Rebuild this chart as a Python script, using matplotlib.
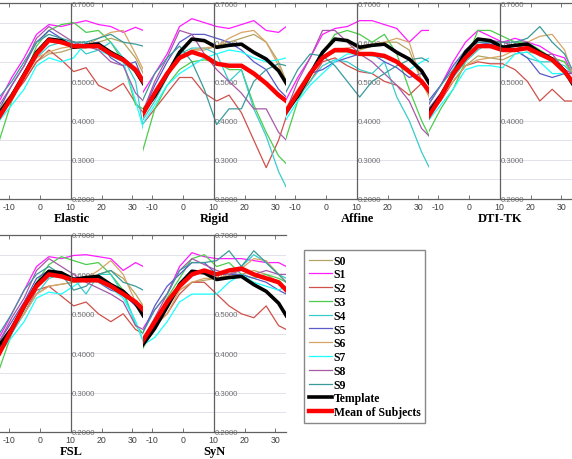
import numpy as np
import matplotlib.pyplot as plt
from matplotlib.ticker import FormatStrFormatter

plt.rcParams["font.family"] = ["Liberation Sans", "DejaVu Sans"]
plt.rcParams["axes.unicode_minus"] = False

# sample positions along the tract (shared by every curve)
x = [-13, -9, -5, -1, 3, 7, 11, 15, 19, 23, 27, 31, 33.5]

subject_names = ["S0", "S1", "S2", "S3", "S4", "S5", "S6", "S7", "S8", "S9"]
subject_colors = ["#b3a462", "#ff1cff", "#d0504a", "#4ccc4c", "#38cccc",
                  "#5a5ac8", "#d8a466", "#1cffff", "#a65aa6", "#3a9a9a"]

template = [0.42, 0.463, 0.518, 0.574, 0.608, 0.604, 0.587, 0.592, 0.595, 0.574, 0.557, 0.527, 0.495]

elastic_subjects = [
    [0.42, 0.46, 0.50, 0.55, 0.570, 0.575, 0.585, 0.585, 0.600, 0.610, 0.600, 0.560, 0.520],
    [0.45, 0.51, 0.56, 0.62, 0.645, 0.640, 0.648, 0.655, 0.645, 0.640, 0.625, 0.638, 0.630],
    [0.42, 0.46, 0.50, 0.55, 0.580, 0.555, 0.525, 0.535, 0.490, 0.475, 0.495, 0.445, 0.420],
    [0.35, 0.45, 0.51, 0.59, 0.630, 0.645, 0.650, 0.625, 0.630, 0.600, 0.550, 0.440, 0.430],
    [0.41, 0.46, 0.51, 0.56, 0.590, 0.600, 0.600, 0.570, 0.580, 0.600, 0.560, 0.500, 0.380],
    [0.43, 0.49, 0.54, 0.60, 0.630, 0.610, 0.590, 0.595, 0.600, 0.560, 0.540, 0.550, 0.500],
    [0.43, 0.47, 0.51, 0.56, 0.575, 0.585, 0.590, 0.590, 0.610, 0.625, 0.630, 0.570, 0.530],
    [0.40, 0.44, 0.48, 0.54, 0.560, 0.550, 0.560, 0.600, 0.580, 0.565, 0.550, 0.450, 0.380],
    [0.44, 0.49, 0.54, 0.61, 0.640, 0.620, 0.600, 0.590, 0.580, 0.550, 0.540, 0.470, 0.450],
    [0.46, 0.50, 0.55, 0.60, 0.620, 0.610, 0.600, 0.600, 0.610, 0.620, 0.600, 0.595, 0.590],
]
elastic_mean = [0.41, 0.46, 0.515, 0.57, 0.605, 0.60, 0.59, 0.59, 0.59, 0.57, 0.555, 0.53, 0.50]

rigid_subjects = [
    [0.42, 0.47, 0.52, 0.560, 0.580, 0.580, 0.590, 0.600, 0.610, 0.620, 0.600, 0.550, 0.500],
    [0.47, 0.52, 0.57, 0.640, 0.660, 0.650, 0.640, 0.635, 0.645, 0.655, 0.630, 0.625, 0.640],
    [0.39, 0.43, 0.47, 0.510, 0.510, 0.470, 0.450, 0.465, 0.420, 0.350, 0.280, 0.350, 0.410],
    [0.32, 0.43, 0.49, 0.530, 0.550, 0.555, 0.550, 0.530, 0.530, 0.440, 0.370, 0.310, 0.290],
    [0.40, 0.45, 0.51, 0.570, 0.585, 0.585, 0.570, 0.500, 0.530, 0.430, 0.360, 0.270, 0.230],
    [0.42, 0.49, 0.55, 0.600, 0.620, 0.620, 0.610, 0.600, 0.580, 0.550, 0.530, 0.480, 0.460],
    [0.43, 0.47, 0.52, 0.565, 0.580, 0.585, 0.590, 0.610, 0.625, 0.630, 0.600, 0.540, 0.500],
    [0.39, 0.44, 0.49, 0.520, 0.540, 0.560, 0.570, 0.580, 0.575, 0.560, 0.550, 0.555, 0.560],
    [0.42, 0.50, 0.56, 0.630, 0.620, 0.570, 0.530, 0.500, 0.470, 0.430, 0.430, 0.370, 0.350],
    [0.45, 0.52, 0.56, 0.590, 0.550, 0.480, 0.390, 0.430, 0.430, 0.500, 0.530, 0.545, 0.540],
]
rigid_mean = [0.415, 0.47, 0.52, 0.56, 0.575, 0.565, 0.545, 0.54, 0.54, 0.52, 0.495, 0.465, 0.45]

affine_subjects = [
    [0.42, 0.47, 0.52, 0.560, 0.575, 0.575, 0.580, 0.590, 0.600, 0.600, 0.580, 0.500, 0.460],
    [0.45, 0.51, 0.56, 0.620, 0.635, 0.640, 0.655, 0.655, 0.645, 0.635, 0.600, 0.630, 0.630],
    [0.42, 0.46, 0.50, 0.550, 0.560, 0.540, 0.525, 0.520, 0.500, 0.490, 0.465, 0.495, 0.470],
    [0.35, 0.45, 0.51, 0.570, 0.620, 0.630, 0.620, 0.600, 0.620, 0.570, 0.480, 0.400, 0.360],
    [0.41, 0.46, 0.50, 0.540, 0.555, 0.550, 0.530, 0.520, 0.550, 0.460, 0.400, 0.320, 0.280],
    [0.42, 0.47, 0.52, 0.530, 0.550, 0.560, 0.570, 0.570, 0.550, 0.535, 0.510, 0.520, 0.500],
    [0.43, 0.48, 0.52, 0.560, 0.580, 0.585, 0.590, 0.595, 0.600, 0.610, 0.600, 0.500, 0.460],
    [0.40, 0.45, 0.49, 0.520, 0.550, 0.570, 0.570, 0.565, 0.560, 0.550, 0.530, 0.550, 0.560],
    [0.42, 0.50, 0.56, 0.630, 0.630, 0.600, 0.570, 0.550, 0.520, 0.490, 0.450, 0.380, 0.360],
    [0.47, 0.53, 0.57, 0.565, 0.540, 0.500, 0.460, 0.500, 0.520, 0.540, 0.555, 0.560, 0.550],
]
affine_mean = [0.42, 0.47, 0.52, 0.56, 0.58, 0.58, 0.57, 0.57, 0.565, 0.55, 0.525, 0.50, 0.475]

dtitk_subjects = [
    [0.42, 0.46, 0.50, 0.54, 0.565, 0.560, 0.555, 0.570, 0.575, 0.570, 0.560, 0.550, 0.520],
    [0.44, 0.49, 0.55, 0.60, 0.630, 0.615, 0.600, 0.610, 0.600, 0.590, 0.570, 0.560, 0.520],
    [0.41, 0.45, 0.50, 0.54, 0.550, 0.545, 0.545, 0.530, 0.500, 0.450, 0.480, 0.450, 0.450],
    [0.37, 0.43, 0.48, 0.55, 0.630, 0.630, 0.615, 0.600, 0.600, 0.580, 0.560, 0.550, 0.520],
    [0.42, 0.46, 0.51, 0.55, 0.580, 0.600, 0.590, 0.580, 0.560, 0.550, 0.550, 0.540, 0.520],
    [0.45, 0.49, 0.54, 0.58, 0.600, 0.595, 0.590, 0.580, 0.560, 0.520, 0.510, 0.520, 0.520],
    [0.42, 0.46, 0.50, 0.54, 0.555, 0.560, 0.565, 0.580, 0.600, 0.615, 0.620, 0.580, 0.520],
    [0.40, 0.44, 0.48, 0.53, 0.540, 0.540, 0.535, 0.570, 0.575, 0.550, 0.520, 0.520, 0.500],
    [0.43, 0.47, 0.52, 0.58, 0.610, 0.605, 0.600, 0.590, 0.600, 0.565, 0.570, 0.530, 0.520],
    [0.44, 0.49, 0.53, 0.58, 0.600, 0.600, 0.600, 0.600, 0.610, 0.640, 0.600, 0.570, 0.530],
]
dtitk_mean = [0.41, 0.46, 0.52, 0.56, 0.59, 0.59, 0.58, 0.58, 0.585, 0.57, 0.555, 0.525, 0.50]

fsl_subjects = [
    [0.42, 0.46, 0.50, 0.55, 0.570, 0.575, 0.580, 0.585, 0.600, 0.610, 0.590, 0.550, 0.520],
    [0.44, 0.50, 0.56, 0.62, 0.645, 0.640, 0.648, 0.650, 0.645, 0.640, 0.610, 0.630, 0.620],
    [0.42, 0.46, 0.50, 0.56, 0.570, 0.545, 0.520, 0.530, 0.500, 0.480, 0.500, 0.460, 0.450],
    [0.36, 0.45, 0.51, 0.58, 0.625, 0.645, 0.635, 0.625, 0.630, 0.600, 0.560, 0.470, 0.450],
    [0.40, 0.45, 0.50, 0.55, 0.590, 0.600, 0.590, 0.550, 0.600, 0.600, 0.550, 0.480, 0.430],
    [0.43, 0.48, 0.53, 0.59, 0.610, 0.600, 0.590, 0.590, 0.580, 0.560, 0.550, 0.520, 0.500],
    [0.42, 0.46, 0.50, 0.55, 0.570, 0.575, 0.580, 0.590, 0.610, 0.635, 0.600, 0.530, 0.520],
    [0.40, 0.44, 0.48, 0.54, 0.555, 0.550, 0.570, 0.590, 0.580, 0.565, 0.540, 0.480, 0.430],
    [0.43, 0.49, 0.54, 0.61, 0.640, 0.620, 0.600, 0.580, 0.565, 0.550, 0.530, 0.470, 0.460],
    [0.45, 0.50, 0.56, 0.60, 0.620, 0.600, 0.560, 0.570, 0.600, 0.610, 0.580, 0.570, 0.560],
]
fsl_mean = [0.40, 0.46, 0.52, 0.57, 0.60, 0.595, 0.585, 0.585, 0.585, 0.57, 0.55, 0.53, 0.51]

syn_subjects = [
    [0.43, 0.47, 0.52, 0.56, 0.580, 0.585, 0.590, 0.595, 0.600, 0.610, 0.600, 0.580, 0.560],
    [0.46, 0.51, 0.55, 0.62, 0.655, 0.645, 0.640, 0.640, 0.640, 0.635, 0.630, 0.630, 0.620],
    [0.43, 0.47, 0.50, 0.55, 0.580, 0.580, 0.550, 0.520, 0.500, 0.490, 0.520, 0.470, 0.460],
    [0.41, 0.47, 0.54, 0.59, 0.640, 0.650, 0.620, 0.630, 0.600, 0.590, 0.600, 0.590, 0.580],
    [0.43, 0.48, 0.52, 0.58, 0.610, 0.605, 0.600, 0.600, 0.620, 0.650, 0.630, 0.600, 0.590],
    [0.45, 0.52, 0.57, 0.60, 0.630, 0.630, 0.600, 0.600, 0.600, 0.590, 0.580, 0.560, 0.550],
    [0.43, 0.47, 0.50, 0.56, 0.580, 0.590, 0.590, 0.600, 0.615, 0.640, 0.635, 0.600, 0.580],
    [0.42, 0.44, 0.48, 0.53, 0.550, 0.550, 0.550, 0.580, 0.600, 0.580, 0.570, 0.560, 0.570],
    [0.43, 0.49, 0.55, 0.61, 0.640, 0.625, 0.610, 0.600, 0.610, 0.600, 0.610, 0.600, 0.600],
    [0.45, 0.51, 0.55, 0.61, 0.630, 0.630, 0.635, 0.660, 0.620, 0.660, 0.630, 0.600, 0.580],
]
syn_mean = [0.43, 0.48, 0.53, 0.57, 0.60, 0.61, 0.60, 0.61, 0.615, 0.60, 0.59, 0.58, 0.56]

panel_titles = ["Elastic", "Rigid", "Affine", "DTI-TK", "FSL", "SyN"]
panel_subjects = [elastic_subjects, rigid_subjects, affine_subjects,
                  dtitk_subjects, fsl_subjects, syn_subjects]
panel_means = [elastic_mean, rigid_mean, affine_mean, dtitk_mean, fsl_mean, syn_mean]

W, H = 572, 460
fig = plt.figure(figsize=(W / 100, H / 100), dpi=100)

# axes boxes in pixels: left, top, width, height
boxes = [(0, 4, 143, 196), (143, 4, 143, 196), (286, 4, 143, 196), (429, 4, 143, 196),
         (0, 236, 143, 197), (143, 236, 143, 197)]

for i, title in enumerate(panel_titles):
    l, t, w, h = boxes[i]
    ax = fig.add_axes([l / W, 1 - (t + h) / H, w / W, h / H])
    for j, ys in enumerate(panel_subjects[i]):
        ax.plot(x, ys, color=subject_colors[j], lw=0.9, label=subject_names[j])
    ax.plot(x, template, color="black", lw=2.6, label="Template")
    ax.plot(x, panel_means[i], color="red", lw=3.2, label="Mean of Subjects")

    ax.set_xlim(-12.8, 33.4)
    ax.set_ylim(0.2, 0.7)
    ax.set_xticks([-10, 0, 10, 20, 30])
    ax.set_yticks(np.arange(0.2, 0.71, 0.1))
    ax.set_yticks(np.arange(0.25, 0.7, 0.1), minor=True)
    ax.yaxis.set_major_formatter(FormatStrFormatter("%.4f"))
    ax.grid(axis="y", which="both", color="#e2e2ea", lw=0.7)

    ax.spines["left"].set_visible(False)
    ax.spines["right"].set_position(("data", 10))
    for s in ["right", "top", "bottom"]:
        ax.spines[s].set_color("#606060")
        ax.spines[s].set_linewidth(0.9)
    ax.yaxis.tick_right()
    ax.tick_params(axis="y", which="both", length=0, pad=1, labelsize=5.6,
                   labelcolor="#707070")
    ax.tick_params(axis="x", direction="in", top=True, length=3, width=0.6,
                   color="#606060", labelsize=6.3, labelcolor="#404040", pad=2)
    ax.set_xlabel(title, family="Liberation Serif", weight="bold", fontsize=9,
                  labelpad=1)

handles, labels = ax.get_legend_handles_labels()
leg = fig.legend(handles, labels, loc="upper left",
                 bbox_to_anchor=(304 / W, 1 - 251 / H), borderaxespad=0,
                 prop={"family": "Liberation Serif", "weight": "bold", "size": 8.5},
                 handlelength=2.0, handletextpad=0.1, labelspacing=0.15,
                 borderpad=0.4, fancybox=False, framealpha=1, edgecolor="#888888")

fig.savefig("out.png", dpi=100)
